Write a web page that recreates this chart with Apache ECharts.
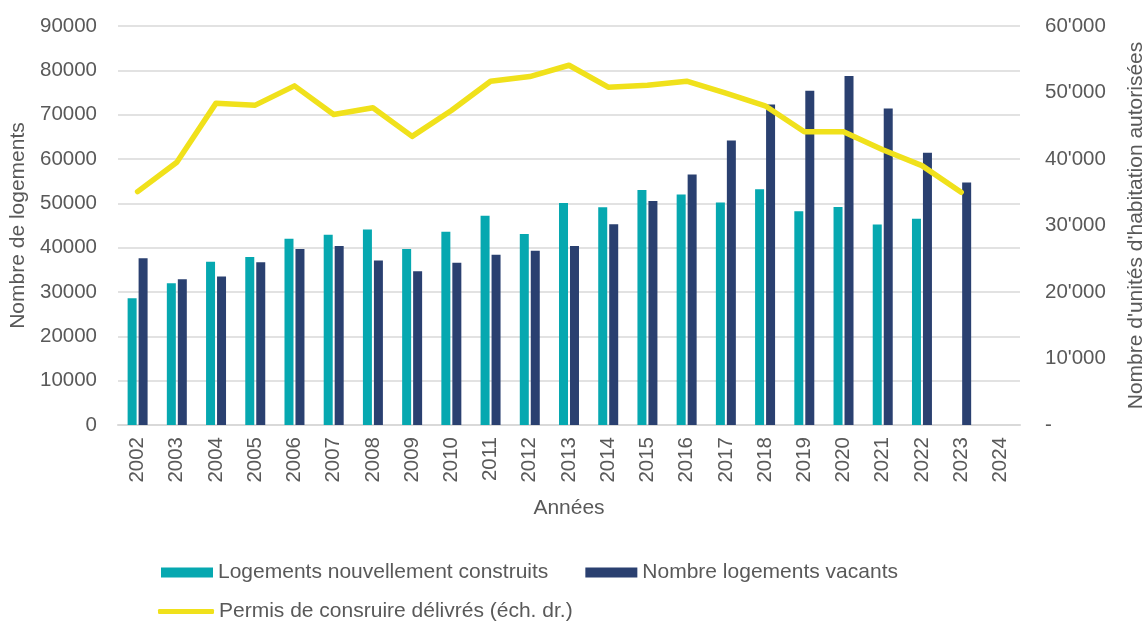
<!DOCTYPE html>
<html>
<head>
<meta charset="utf-8">
<script src="https://cdn.jsdelivr.net/npm/echarts@6/dist/echarts.min.js"></script>
<style>
  html, body { margin: 0; padding: 0; background: #fff; }
  #chart { width: 1146px; height: 621px; }
</style>
</head>
<body>
<div id="chart"></div>
<script>
// années
var years = ['2002','2003','2004','2005','2006','2007','2008','2009','2010','2011','2012',
             '2013','2014','2015','2016','2017','2018','2019','2020','2021','2022','2023','2024'];
// logements nouvellement construits
var construits = [28600, 32000, 36800, 37900, 42000, 42900, 44100, 39700, 43600, 47200, 43100,
                  50100, 49100, 53000, 52000, 50200, 53200, 48200, 49200, 45200, 46500, null, null];
// nombre de logements vacants
var vacants = [37600, 32900, 33500, 36700, 39700, 40400, 37100, 34700, 36600, 38400, 39300,
               40400, 45300, 50500, 56500, 64200, 72300, 75400, 78700, 71400, 61400, 54700, null];
// permis de construire (échelle de droite)
var permis = [35100, 39500, 48400, 48100, 51000, 46700, 47700, 43400, 47300, 51700, 52400,
              54100, 50800, 51100, 51700, 49900, 48000, 44100, 44100, 41400, 39000, 35000, null];

var txt = '#595959';
var ff = '"Liberation Sans", Arial, sans-serif';

var myChart = echarts.init(document.getElementById('chart'));
var option = {
    animation: false,
    textStyle: {fontFamily: ff, color: txt},
    grid: {left: 118, right: 126, top: 26, bottom: 196, containLabel: false, outerBoundsMode: 'none'},
    legend: [{
        left: 161, top: 562, padding: 0,
        itemWidth: 52, itemHeight: 10, itemGap: 37,
        icon: 'rect',
        textStyle: {fontSize: 21, color: txt, fontFamily: ff},
        data: ['Logements nouvellement construits', 'Nombre logements vacants']
    }, {
        left: 158, top: 601, padding: 0,
        itemWidth: 56, itemHeight: 5, icon: 'roundRect',
        textStyle: {fontSize: 21, color: txt, fontFamily: ff},
        data: ['Permis de consruire délivrés (éch. dr.)']
    }],
    xAxis: {
        type: 'category',
        data: years,
        name: 'Années',
        nameLocation: 'middle',
        nameGap: 73,
        nameTextStyle: {fontSize: 21, color: txt},
        axisLine: {lineStyle: {color: '#d9d9d9', width: 2}},
        axisTick: {show: false},
        axisLabel: {rotate: 90, margin: 12, fontSize: 20.5, color: txt, interval: 0}
    },
    yAxis: [{
        type: 'value',
        min: 0, max: 90000, interval: 10000,
        name: 'Nombre de logements',
        nameLocation: 'middle',
        nameRotate: 90,
        nameGap: 82,
        nameTextStyle: {fontSize: 21, color: txt},
        axisLine: {show: false},
        axisTick: {show: false},
        axisLabel: {margin: 21, fontSize: 20.5, color: txt, formatter: function (v) { return String(v); }},
        splitLine: {lineStyle: {color: '#d9d9d9', width: 1.5}}
    }, {
        type: 'value',
        min: 0, max: 60000, interval: 10000,
        position: 'right',
        name: "Nombre d'unités d'habitation autorisées",
        nameLocation: 'middle',
        nameRotate: 90,
        nameGap: 106,
        nameTextStyle: {fontSize: 21, color: txt},
        axisLine: {show: false},
        axisTick: {show: false},
        splitLine: {show: false},
        axisLabel: {
            margin: 25, fontSize: 20.5, color: txt,
            formatter: function (v) {
                if (v === 0) return '-';
                return String(v).replace(/\B(?=(\d{3})+(?!\d))/g, "'");
            }
        }
    }],
    series: [{
        name: 'Logements nouvellement construits',
        type: 'bar',
        data: construits,
        barWidth: 9,
        barGap: '22%',
        itemStyle: {color: '#06a8b0'}
    }, {
        name: 'Nombre logements vacants',
        type: 'bar',
        data: vacants,
        barWidth: 9,
        itemStyle: {color: '#2a4070'}
    }, {
        name: 'Permis de consruire délivrés (éch. dr.)',
        type: 'line',
        yAxisIndex: 1,
        data: permis,
        symbol: 'none',
        z: 5,
        itemStyle: {color: '#f0e11b'},
        lineStyle: {color: '#f0e11b', width: 5.5, join: 'round', cap: 'round'}
    }]
};
myChart.setOption(option);
</script>
</body>
</html>
